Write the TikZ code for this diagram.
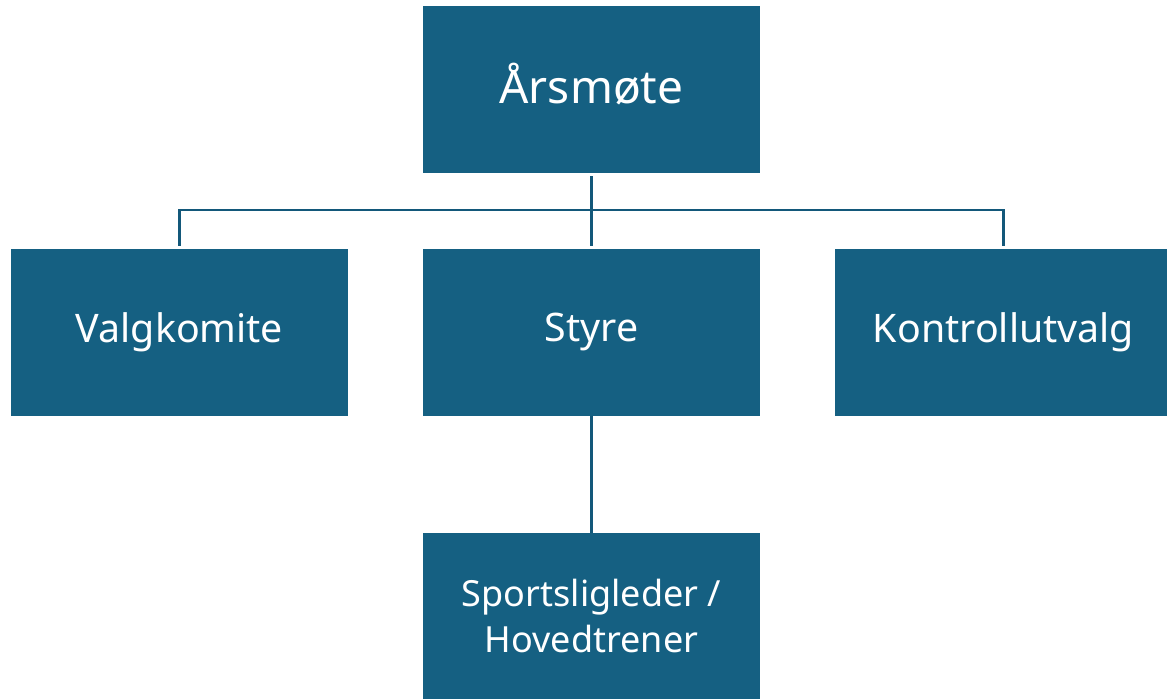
\documentclass[tikz,border=0pt]{standalone}
\usepackage{fontspec}
\setmainfont{Noto Sans}
\definecolor{boxblue}{HTML}{156082}
\definecolor{lineblue}{HTML}{13587A}
\begin{document}
\begin{tikzpicture}[x=0.75pt,y=-0.75pt,
  orgbox/.style={fill=boxblue, draw=none, text=white, inner sep=0pt, outer sep=0pt,
    minimum width=252.75pt, minimum height=125.25pt, align=center, font=\fontsize{29.5}{36}\selectfont},
  conn/.style={draw=lineblue, line width=2.1pt}]
\useasboundingbox (0,0) rectangle (1167,699);
\node[orgbox, font=\fontsize{34.5}{40}\selectfont] (ars) at (591.5,89.5) {\raisebox{4pt}[\height][\depth]{Årsmøte}};
\node[orgbox] (valg) at (179.5,332) {Valgkomite};
\node[orgbox] (styre) at (591.5,332) {Styre};
\node[orgbox] (kontroll) at (1003.5,332) {Kontrollutvalg};
\node[orgbox, font=\fontsize{27}{34.5}\selectfont] (sport) at (591.5,616) {Sportsligleder /\\Hovedtrener};
\coordinate (hbar) at (591.5,210);
\draw[conn, shorten <=2.25pt, shorten >=2.25pt] (ars) -- (styre);
\draw[conn, shorten <=2.25pt, shorten >=2.25pt] (valg.north) |- (hbar) -| (kontroll.north);
\draw[conn] (styre) -- (sport);
\end{tikzpicture}
\end{document}
